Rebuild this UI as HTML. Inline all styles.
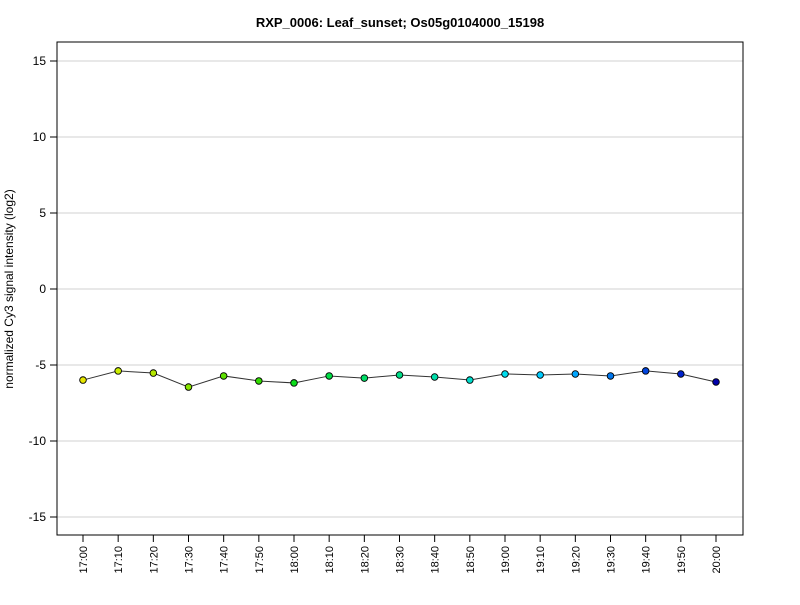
<!DOCTYPE html>
<html><head><meta charset="utf-8"><style>
body{margin:0;background:#fff;font-family:"Liberation Sans",sans-serif;}
</style></head><body>
<svg id="chart" width="800" height="600" xmlns="http://www.w3.org/2000/svg" font-family="Liberation Sans, sans-serif">
<rect width="800" height="600" fill="#fff"/>
<text x="400" y="27" text-anchor="middle" font-weight="bold" font-size="13">RXP_0006: Leaf_sunset; Os05g0104000_15198</text>
<text transform="translate(13,289) rotate(-90)" text-anchor="middle" font-size="12">normalized Cy3 signal intensity (log2)</text>
<g id="grid"></g><g id="axes"></g><g id="series"></g>
<rect x="57" y="42" width="686" height="493" fill="none" stroke="#000"/>
</svg>
<script>
const categories=["17:00","17:10","17:20","17:30","17:40","17:50","18:00","18:10","18:20","18:30","18:40","18:50","19:00","19:10","19:20","19:30","19:40","19:50","20:00"];
const values=[-5.99,-5.39,-5.53,-6.45,-5.72,-6.05,-6.18,-5.72,-5.86,-5.66,-5.79,-5.99,-5.59,-5.66,-5.59,-5.72,-5.39,-5.59,-6.12];
const pointColors=["#e6e600","#ccee00","#b3e600","#88e600","#5de000","#33dd00","#0cdd1a","#00dd44","#00dd66","#00dd88","#00ddaa","#00ddcc","#00ddee","#00ccff","#00a6ff","#0077ee","#0044dd","#0022cc","#0000aa"];
const yTicks=[-15,-10,-5,0,5,10,15];
const NS="http://www.w3.org/2000/svg";
const y=v=>289-v*15.2;
const x=i=>83+i*(716-83)/(categories.length-1);
function mk(t,a,p){const e=document.createElementNS(NS,t);for(const k in a)e.setAttribute(k,a[k]);p.appendChild(e);return e;}
const grid=document.getElementById('grid'),axes=document.getElementById('axes'),ser=document.getElementById('series');
yTicks.forEach(v=>{
 const g=mk('line',{x1:57,x2:743,y1:y(v),y2:y(v),stroke:'#d0d0d0'},grid);
 
 
 const tk=mk('line',{x1:50,x2:57,y1:y(v),y2:y(v),stroke:'#000'},axes);
 
 
 const t=mk('text',{x:46,y:y(v)+4,'text-anchor':'end','font-size':12},axes);
 t.textContent=v;
 
 
});
categories.forEach((c,i)=>{
 const tk=mk('line',{x1:x(i),x2:x(i),y1:535,y2:542,stroke:'#000'},axes);
 
 
 const t=mk('text',{transform:`translate(${x(i)+4},546) rotate(-90)`,'text-anchor':'end','font-size':11},axes);
 t.textContent=c;
 
 
});
const pl=mk('polyline',{points:values.map((v,i)=>x(i)+','+y(v)).join(' '),fill:'none',stroke:'#333','stroke-width':1},ser);


values.forEach((v,i)=>{
 const c=mk('circle',{cx:x(i),cy:y(v),r:3.3,fill:pointColors[i],stroke:'#000','stroke-width':0.9},ser);
 
 
});
</script>
</body></html>
